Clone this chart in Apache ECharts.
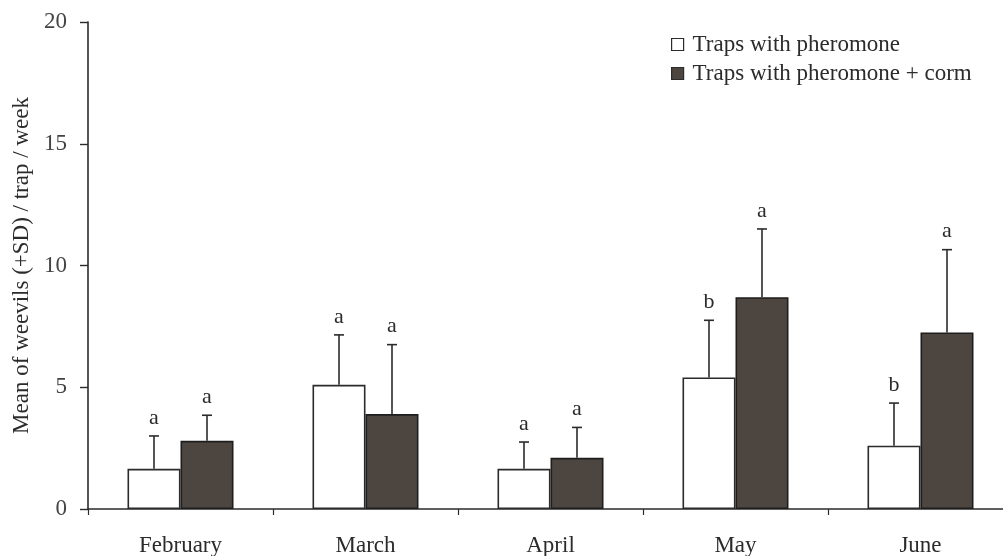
<!DOCTYPE html>
<html>
<head>
<meta charset="utf-8">
<script src="https://cdn.jsdelivr.net/npm/echarts@6/dist/echarts.min.js"></script>
<style>
  html, body { margin: 0; padding: 0; background: #fff; }
  #chart { width: 1003px; height: 556px; }
</style>
</head>
<body>
<div id="chart"></div>
<script>
// Monthly trap catches: mean and standard deviation per trap type
const months = ['February', 'March', 'April', 'May', 'June'];
const pheromoneMean = [1.65, 5.1, 1.65, 5.4, 2.6];
const pheromoneSD = [1.35, 2.05, 1.1, 2.35, 1.75];
const pheromoneLetters = ['a', 'a', 'a', 'b', 'b'];
const cormMean = [2.8, 3.9, 2.1, 8.7, 7.25];
const cormSD = [1.05, 2.85, 1.25, 2.8, 3.4];
const cormLetters = ['a', 'a', 'a', 'a', 'a'];
const yTicks = [0, 5, 10, 15, 20];

const SERIF = '"Liberation Serif", "DejaVu Serif", serif';
const INK = '#2b2b2b';
const BAR_W = 53;

// Error whisker (mean -> mean + SD) with cap, and the significance letter above it
function whisker(side) {
  return function (params, api) {
    const i = api.value(0);
    const mean = api.value(1);
    const sd = api.value(2);
    const letters = side < 0 ? pheromoneLetters : cormLetters;
    const p0 = api.coord([i, mean]);
    const p1 = api.coord([i, mean + sd]);
    const x = p0[0] + side * BAR_W / 2;
    const style = { stroke: INK, lineWidth: 1.6 };
    return {
      type: 'group',
      children: [
        { type: 'line', shape: { x1: x, y1: p0[1], x2: x, y2: p1[1] }, style: style },
        { type: 'line', shape: { x1: x - 5, y1: p1[1], x2: x + 5, y2: p1[1] }, style: style },
        {
          type: 'text',
          style: {
            text: letters[params.dataIndex], x: x, y: p1[1] - 18,
            align: 'center', verticalAlign: 'middle',
            font: '22px ' + SERIF, fill: INK
          }
        }
      ]
    };
  };
}

const chart = echarts.init(document.getElementById('chart'));
chart.setOption({
  backgroundColor: '#fff',
  animation: false,
  grid: { left: 88, width: 925, top: 22, bottom: 47, outerBoundsMode: 'none', containLabel: false },
  legend: {
    orient: 'vertical',
    left: 671,
    top: 33,
    padding: 0,
    itemWidth: 12,
    itemHeight: 12,
    itemGap: 6,
    icon: 'rect',
    textStyle: { fontFamily: SERIF, fontSize: 23, color: INK, padding: [0, 0, 0, 4] },
    data: [
      { name: 'Traps with pheromone', itemStyle: { color: '#fff', borderColor: INK, borderWidth: 1.2 } },
      { name: 'Traps with pheromone + corm', itemStyle: { color: '#4d453f', borderColor: INK, borderWidth: 1.2 } }
    ]
  },
  xAxis: {
    type: 'category',
    data: months,
    axisLine: { lineStyle: { color: INK, width: 1.6 } },
    axisTick: { show: true, length: 6, lineStyle: { color: INK, width: 1.2 } },
    axisLabel: { fontFamily: SERIF, fontSize: 23, color: INK, margin: 25 }
  },
  yAxis: {
    type: 'value',
    min: yTicks[0],
    max: yTicks[yTicks.length - 1],
    interval: yTicks[1] - yTicks[0],
    name: 'Mean of weevils (+SD) / trap / week',
    nameLocation: 'middle',
    nameGap: 49,
    nameTextStyle: { fontFamily: SERIF, fontSize: 23, color: INK },
    axisLine: { show: true, lineStyle: { color: INK, width: 1.6 } },
    axisTick: { show: true, length: 8, lineStyle: { color: INK, width: 1.4 } },
    axisLabel: { fontFamily: SERIF, fontSize: 23, color: '#444', margin: 21 },
    splitLine: { show: false }
  },
  series: [
    {
      name: 'Traps with pheromone',
      type: 'bar',
      barWidth: BAR_W,
      barGap: '0%',
      data: pheromoneMean,
      itemStyle: { color: '#fff', borderColor: INK, borderWidth: 1.6 }
    },
    {
      name: 'Traps with pheromone + corm',
      type: 'bar',
      barWidth: BAR_W,
      barGap: '0%',
      data: cormMean,
      itemStyle: { color: '#4d453f', borderColor: '#1e1e1e', borderWidth: 1.6 }
    },
    {
      type: 'custom',
      renderItem: whisker(-1),
      data: months.map((m, i) => [i, pheromoneMean[i], pheromoneSD[i]]),
      z: 5,
      silent: true
    },
    {
      type: 'custom',
      renderItem: whisker(1),
      data: months.map((m, i) => [i, cormMean[i], cormSD[i]]),
      z: 5,
      silent: true
    }
  ]
});
</script>
</body>
</html>
